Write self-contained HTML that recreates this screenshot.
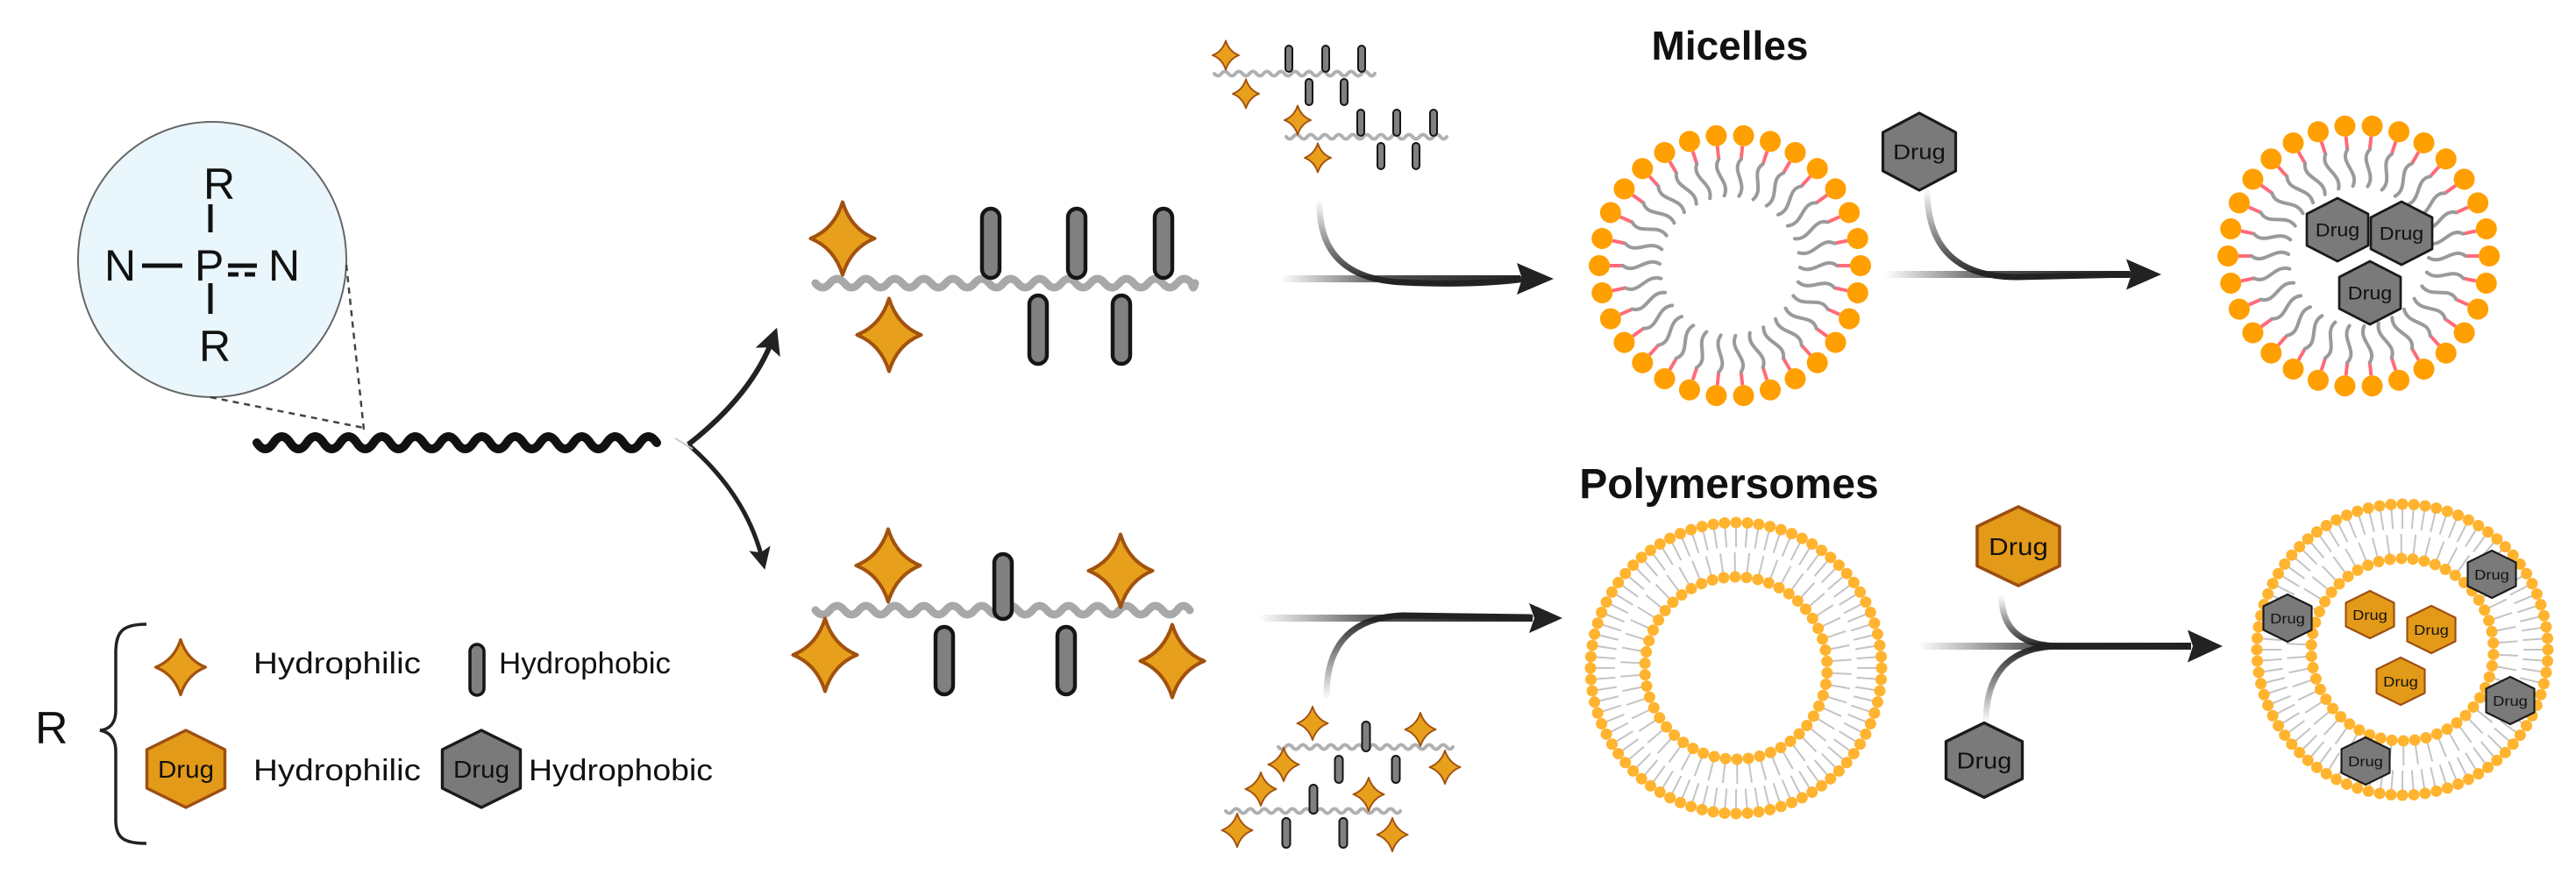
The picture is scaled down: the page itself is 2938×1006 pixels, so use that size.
<!DOCTYPE html>
<html><head><meta charset="utf-8"><style>
html,body{margin:0;padding:0;background:#fff;width:2938px;height:1006px;overflow:hidden}
svg{display:block}
text{font-family:"Liberation Sans",Arial,sans-serif}
</style></head><body>
<svg id="s" width="2938" height="1006" viewBox="0 0 2938 1006" xmlns="http://www.w3.org/2000/svg">
<defs>
<linearGradient id="gh" x1="0" y1="0" x2="1" y2="0"><stop offset="0" stop-color="#222" stop-opacity="0"/><stop offset="0.45" stop-color="#222" stop-opacity="0.8"/><stop offset="1" stop-color="#222"/></linearGradient>
<linearGradient id="gv" x1="0" y1="0" x2="0" y2="1"><stop offset="0" stop-color="#222" stop-opacity="0.05"/><stop offset="1" stop-color="#222"/></linearGradient>
<linearGradient id="gvu" x1="0" y1="1" x2="0" y2="0"><stop offset="0" stop-color="#222" stop-opacity="0.05"/><stop offset="1" stop-color="#222"/></linearGradient>
<marker id="ah" viewBox="0 0 10 10" refX="6" refY="5" markerWidth="5" markerHeight="5" orient="auto"><path d="M0,0 L10,5 L0,10 L2,5 Z" fill="#222"/></marker>
</defs>

<ellipse cx="242" cy="296" rx="153" ry="157" fill="#e9f7fd" stroke="#666" stroke-width="2"/>
<g font-size="50" fill="#111">
<text x="232" y="227">R</text>
<text x="119" y="320">N</text>
<text x="222" y="320">P</text>
<text x="306" y="320">N</text>
<text x="227" y="412">R</text>
</g>
<g stroke="#111" stroke-width="5">
<line x1="162" y1="303" x2="208" y2="303"/>
<line x1="260" y1="303" x2="293" y2="303"/>
<line x1="260" y1="313" x2="293" y2="313" stroke-dasharray="12,7"/>
<line x1="240" y1="233" x2="240" y2="265"/>
<line x1="240" y1="323" x2="240" y2="358"/>
</g>
<g stroke="#444" stroke-width="2.5" stroke-dasharray="7,6" fill="none">
<line x1="240" y1="453" x2="415" y2="488"/>
<line x1="395" y1="302" x2="415" y2="490"/>
</g>

<path d="M167,712 C140,712 132,720 132,745 L132,810 C132,825 125,832 114,833 C125,835 132,842 132,857 L132,935 C132,955 140,962 167,962" fill="none" stroke="#222" stroke-width="3.5"/>
<text x="40" y="848" font-size="52" fill="#111">R</text>
<text x="289" y="768" font-size="34" textLength="191" lengthAdjust="spacingAndGlyphs" fill="#111">Hydrophilic</text>
<text x="569" y="768" font-size="34" textLength="196" lengthAdjust="spacingAndGlyphs" fill="#111">Hydrophobic</text>
<text x="289" y="890" font-size="34" textLength="191" lengthAdjust="spacingAndGlyphs" fill="#111">Hydrophilic</text>
<text x="603" y="890" font-size="34" textLength="210" lengthAdjust="spacingAndGlyphs" fill="#111">Hydrophobic</text>

<path d="M785,507 Q858,450 882,385" fill="none" stroke="#222" stroke-width="6" marker-end="url(#ah)"/>
<path d="M785,507 Q852,565 870,640" fill="none" stroke="#222" stroke-width="5" marker-end="url(#ah)"/>
<line x1="770" y1="500" x2="790" y2="512" stroke="#ccc" stroke-width="2"/>

<text x="1973" y="68" font-size="46" font-weight="bold" text-anchor="middle" fill="#111">Micelles</text>
<text x="1972" y="568" font-size="48" font-weight="bold" text-anchor="middle" fill="#111">Polymersomes</text>

<g id="dyn"></g>
</svg>
<script>
var NS="http://www.w3.org/2000/svg",dyn=document.getElementById('dyn');
function el(t,a,p){var e=document.createElementNS(NS,t);for(var k in a)e.setAttribute(k,a[k]);(p||dyn).appendChild(e);return e;}
function wave(x1,x2,y,amp,per,col,w){var d="M"+x1+","+y,x=x1,s=1;while(x<x2){var nx=Math.min(x+per/2,x2);d+=" Q"+((x+nx)/2)+","+(y+s*amp*2)+" "+nx+","+y;x=nx;s=-s;}el('path',{d:d,fill:'none',stroke:col,'stroke-width':w,'stroke-linecap':'round'});}
function star(cx,cy,w,h){var a=w/2,b=h/2,k=0.26;var d="M"+cx+","+(cy-b)+" Q"+(cx+a*k)+","+(cy-b*k)+" "+(cx+a)+","+cy+" Q"+(cx+a*k)+","+(cy+b*k)+" "+cx+","+(cy+b)+" Q"+(cx-a*k)+","+(cy+b*k)+" "+(cx-a)+","+cy+" Q"+(cx-a*k)+","+(cy-b*k)+" "+cx+","+(cy-b)+"Z";el('path',{d:d,fill:'#E8A01C',stroke:'#A2520F','stroke-width':Math.max(2,w/18),'stroke-linejoin':'round'});}
function stick(cx,y1,y2,w){el('rect',{x:cx-w/2,y:y1,width:w,height:y2-y1,rx:w/2,fill:'#808080',stroke:'#151515','stroke-width':Math.max(2,w/4.5)});}
function hex(cx,cy,w,h,orange,fs){var a=w/2,b=h/2;var pts=[[0,-b],[a,-b/2],[a,b/2],[0,b],[-a,b/2],[-a,-b/2]].map(function(p){return (cx+p[0])+","+(cy+p[1]);}).join(" ");el('polygon',{points:pts,fill:orange?'#E39A18':'#7a7a7a',stroke:orange?'#9C4E12':'#1a1a1a','stroke-width':Math.max(2,w/26),'stroke-linejoin':'round'});var t=el('text',{x:cx,y:cy+fs*0.36,'font-size':fs,'text-anchor':'middle',fill:'#111',textLength:w*0.72,lengthAdjust:'spacingAndGlyphs'});t.textContent="Drug";}
function arrowH(x1,x2,y,headW,headH){el('line',{x1:x1,y1:y,x2:x2-headW+4,y2:y+0.01,stroke:'url(#gh)','stroke-width':8});el('polygon',{points:(x2-headW)+","+(y-headH/2)+" "+x2+","+y+" "+(x2-headW)+","+(y+headH/2)+" "+(x2-headW+6)+","+y,fill:'#222'});}
function curve(d,grad,w){el('path',{d:d,fill:'none',stroke:'url(#'+grad+')','stroke-width':w||6,'stroke-linecap':'round'});}

wave(293,749,505,7,38,'#111',10);

star(206,761,57,63);stick(544,735,793,16);hex(212,877,89,88,true,28);hex(549,877,89,88,false,28);

wave(930,1363,323,5,33,'#a8a8a8',9);
star(961,272,73,83);star(1014,382,73,83);
[1130,1228,1327].forEach(function(x){stick(x,238,317,20);});
[1184,1279].forEach(function(x){stick(x,337,415,20);});
wave(930,1357,696,5,33,'#a8a8a8',9);
star(1013,645,73,83);star(1278,651,73,83);star(941,747,73,83);star(1337,754,73,83);
stick(1144,632,706,20);stick(1077,715,792,20);stick(1216,715,792,20);

wave(1385,1568,84,2.5,16,'#b0b0b0',4);wave(1467,1650,156,2.5,16,'#b0b0b0',4);
star(1398,63,30,33);star(1421,107,30,33);star(1480,137,30,33);star(1503,180,30,33);
[1470,1512,1553].forEach(function(x){stick(x,52,82,8);});[1493,1533].forEach(function(x){stick(x,90,120,8);});
[1552,1593,1635].forEach(function(x){stick(x,125,155,8);});[1575,1615].forEach(function(x){stick(x,163,193,8);});
wave(1458,1657,852,2.5,16,'#b0b0b0',4);wave(1398,1597,925,2.5,16,'#b0b0b0',4);
star(1497,825,35,38);star(1620,832,35,38);star(1464,872,35,38);star(1648,875,35,38);
star(1438,900,35,38);star(1561,906,35,38);star(1411,947,35,38);star(1588,952,35,38);
stick(1558,823,857,9);stick(1527,862,893,9);stick(1592,862,893,9);
stick(1498,895,928,9);stick(1467,933,967,9);stick(1532,933,967,9);

arrowH(1460,1772,318,42,36);curve("M1505,233 Q1505,318 1600,322 Q1680,326 1740,318",'gv',7);
hex(2189,173,83,88,false,24);
arrowH(2150,2465,313,40,35);curve("M2198,220 Q2200,316 2300,316 L2430,313",'gv',7);
arrowH(1435,1782,705,38,34);curve("M1513,793 Q1513,705 1600,702 L1745,704",'gvu',7);
hex(2302,623,94,90,true,28);hex(2263,867,87,85,false,26);
arrowH(2187,2535,737,40,37);curve("M2283,683 Q2285,737 2350,737 L2495,737",'gv',7);curve("M2265,820 Q2267,737 2350,737",'gvu',7);

function micelle(cx,cy){var g=el('g',{transform:'translate('+cx+','+cy+')'});var n=30;for(var i=0;i<n;i++){var a=i*360/n;var gg=el('g',{transform:'rotate('+a+')'},g);el('line',{x1:137,y1:0,x2:121,y2:0,stroke:'#ff6b78','stroke-width':4},gg);el('path',{d:'M122,0 C108,-11 96,11 80,2',fill:'none',stroke:'#9a9a9a','stroke-width':4,'stroke-linecap':'round'},gg);el('circle',{cx:149,cy:0,r:12,fill:'#FF9F00'},gg);}return g;}
micelle(1973,303);micelle(2690,292);
hex(2666,262,70,72,false,21);hex(2739,266,70,72,false,21);hex(2703,334,70,72,false,21);

function psome(cx,cy){var g=el('g',{transform:'translate('+cx+','+cy+')'});var n=80;for(var i=0;i<n;i++){var a=i*360/n;var gg=el('g',{transform:'rotate('+a+')'},g);el('line',{x1:160,y1:0,x2:138,y2:0,stroke:'#c4c4c4','stroke-width':2},gg);el('circle',{cx:166,cy:0,r:6.5,fill:'#FFB32E'},gg);}var m=50;for(var j=0;j<m;j++){var b=j*360/m+3;var g2=el('g',{transform:'rotate('+b+')'},g);el('line',{x1:110,y1:0,x2:132,y2:0,stroke:'#c4c4c4','stroke-width':2},g2);el('circle',{cx:104,cy:0,r:6.5,fill:'#FFB32E'},g2);}}
psome(1980,762);psome(2740,741);
hex(2842,655,55,54,false,16);hex(2609,705,55,54,false,16);hex(2863,799,55,54,false,16);hex(2698,868,55,54,false,16);
hex(2703,701,55,54,true,16);hex(2773,718,55,54,true,16);hex(2738,777,55,54,true,16);
</script>
</body></html>
